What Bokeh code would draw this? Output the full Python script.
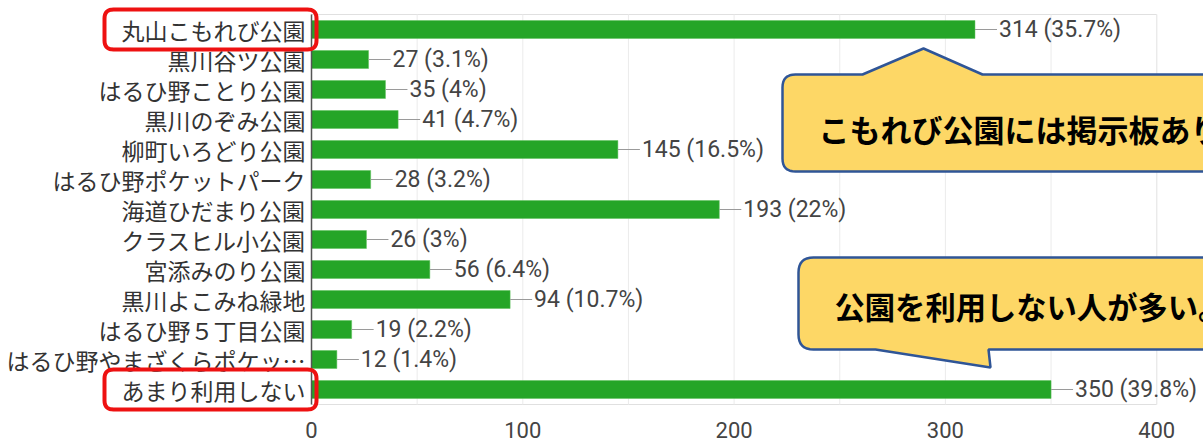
from bokeh.plotting import figure
from bokeh.models import Range1d, FixedTicker, PolyAnnotation, Label
from bokeh.core.properties import value
from bokeh.embed import file_html
from bokeh.resources import INLINE

# ---- data ----
parks = ["丸山こもれび公園", "黒川谷ツ公園", "はるひ野ことり公園", "黒川のぞみ公園",
         "柳町いろどり公園", "はるひ野ポケットパーク", "海道ひだまり公園", "クラスヒル小公園",
         "宮添みのり公園", "黒川よこみね緑地", "はるひ野５丁目公園", "はるひ野やまざくらポケッ…",
         "あまり利用しない"]
counts = [314, 27, 35, 41, 145, 28, 193, 26, 56, 94, 19, 12, 350]
percents = ["35.7", "3.1", "4", "4.7", "16.5", "3.2", "22", "3", "6.4", "10.7", "2.2", "1.4", "39.8"]
x_ticks = [0, 100, 200, 300, 400]
grid_ticks = [0, 50, 100, 150, 200, 250, 300, 350, 400]
callout_texts = ["こもれび公園には掲示板あり", "公園を利用しない人が多い。"]

labels = [f"{c} ({p}%)" for c, p in zip(counts, percents)]
rows = list(range(len(parks)))

# ---- layout helpers (image px -> data coordinates) ----
W, H = 1203, 441
X0_IMG, PXU = 311.0, 2.113     # image x of value 0, px per unit
Y0_IMG, PYU = 29.0, 30.0       # image y of first row centre, px per row
FRAME_BOTTOM_IMG = 412.0


def xd(px):
    return (px - X0_IMG) / PXU


def yd(py):
    return (py - Y0_IMG) / PYU


p = figure(width=W, height=H, output_backend="svg", toolbar_location=None,
           x_range=Range1d(xd(0), xd(W)),
           y_range=Range1d(yd(FRAME_BOTTOM_IMG), yd(0)),
           min_border_left=0, min_border_right=0, min_border_top=0,
           min_border_bottom=int(H - FRAME_BOTTOM_IMG))
p.background_fill_color = "white"
p.border_fill_color = "white"
p.outline_line_color = None
p.xgrid.grid_line_color = None
p.ygrid.grid_line_color = None
p.yaxis.visible = False

p.xaxis.ticker = FixedTicker(ticks=x_ticks)
p.xaxis.axis_line_color = None
p.xaxis.major_tick_line_color = None
p.xaxis.minor_tick_line_color = None
p.xaxis.major_label_text_font = "Roboto"
p.xaxis.major_label_text_font_size = "22px"
p.xaxis.major_label_text_color = "#444444"
p.xaxis.major_label_standoff = 3

# plot box: grid lines, outline, left axis line
top_edge, bot_edge = -0.5, len(parks) - 0.5
p.segment(x0=grid_ticks, y0=top_edge, x1=grid_ticks, y1=bot_edge,
          line_color="#ebebeb", line_width=1)
p.add_layout(PolyAnnotation(xs=[0, 400, 400, 0], ys=[top_edge, top_edge, bot_edge, bot_edge],
                            fill_alpha=0, line_color="#e0e0e0", line_alpha=1.0,
                            line_width=1, level="underlay"))

p.hbar(y=rows, left=0, right=counts, height=0.6, fill_color="#25a527",
       line_color="#5cc15a", line_width=0.5)
p.segment(x0=0, y0=top_edge, x1=0, y1=bot_edge, line_color="#555555", line_width=1.5)
p.ray(x=counts, y=rows, length=22, length_units="screen", angle=0,
      line_color="#9a9a9a", line_width=1.2)
p.text(x=counts, y=rows, text=labels, x_offset=24, text_baseline="middle",
       text_align="left", text_font=value("Roboto"), text_font_size="23px",
       text_color="#444444")
p.text(x=0, y=rows, text=parks, x_offset=-6, text_baseline="middle",
       text_align="right", text_font=value("Noto Sans CJK JP"), text_font_size="23px",
       text_color="#333333")


def rounded(pts):
    out = []
    n = len(pts)
    for i, (x, y, r) in enumerate(pts):
        if r <= 0:
            out.append((x, y))
            continue
        ax, ay, _ = pts[i - 1]
        bx, by, _ = pts[(i + 1) % n]
        da = ((ax - x) ** 2 + (ay - y) ** 2) ** 0.5
        db = ((bx - x) ** 2 + (by - y) ** 2) ** 0.5
        p1 = (x + (ax - x) / da * r, y + (ay - y) / da * r)
        p2 = (x + (bx - x) / db * r, y + (by - y) / db * r)
        for k in range(9):
            t = k / 8
            qx = (1 - t) ** 2 * p1[0] + 2 * (1 - t) * t * x + t ** 2 * p2[0]
            qy = (1 - t) ** 2 * p1[1] + 2 * (1 - t) * t * y + t ** 2 * p2[1]
            out.append((qx, qy))
    return [xd(a) for a, _ in out], [yd(b) for _, b in out]


callout_shapes = [
    [(782, 74, 13), (862, 74, 0), (923, 48, 0), (982, 74, 0), (1240, 74, 13),
     (1240, 171, 13), (782, 171, 13)],
    [(798, 257, 15), (1240, 257, 15), (1240, 349, 15), (988, 349, 0), (990, 367, 0),
     (875, 349, 0), (798, 349, 15)],
]
callout_text_pos = [(818, 128, "31px"), (834, 305, "30.3px")]
for shape, txt, (tx, ty, fs) in zip(callout_shapes, callout_texts, callout_text_pos):
    xs, ys = rounded(shape)
    p.add_layout(PolyAnnotation(xs=xs, ys=ys, fill_color="#fdd766", fill_alpha=1.0,
                                line_color="#2f5597", line_alpha=1.0, line_width=2.5))
    p.add_layout(Label(x=xd(tx), y=yd(ty), text=txt, text_font="Noto Sans CJK JP",
                       text_font_style="bold", text_font_size=fs, text_color="#000000",
                       text_baseline="middle", text_align="left"))

for (top, bot) in [(9, 49), (369, 409)]:
    xs, ys = rounded([(104, top, 9), (316, top, 9), (316, bot, 9), (104, bot, 9)])
    p.add_layout(PolyAnnotation(xs=xs, ys=ys, fill_alpha=0, line_color="#ee1111",
                                line_alpha=1.0, line_width=4))

open("out.html", "w").write(file_html(p, INLINE))
